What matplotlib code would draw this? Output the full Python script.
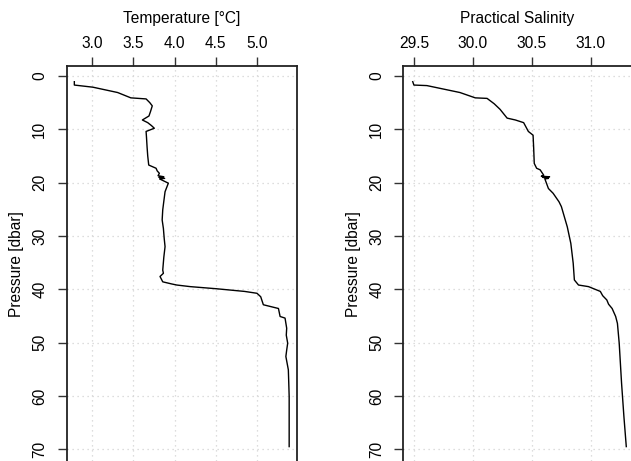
import numpy as np
import matplotlib
matplotlib.use("Agg")
import matplotlib.pyplot as plt

plt.rcParams['font.family'] = ['Liberation Sans', 'DejaVu Sans']

# temperature profile, [degC] vs pressure [dbar]
temp_p = [1.07, 1.7, 2.1, 3.1, 4.1, 4.3, 5.0, 5.6, 6.6, 7.5, 8.25, 8.75, 9.3, 9.8, 10.4,
          11.5, 13.3, 15.0, 16.7, 17.3, 17.8, 18.25, 18.7, 18.9, 19.0, 19.2, 19.3, 19.5,
          20.1, 21.7, 23.5, 25.1, 27.0, 28.6, 30.5, 32.0, 34.0, 36.4, 37.0, 37.6, 38.6,
          39.0, 39.2, 39.5, 39.9, 40.4, 40.75, 41.4, 42.9, 43.6, 45.1, 45.4, 47.3, 48.6,
          50.1, 51.4, 52.6, 55.1, 57.5, 60.1, 63.0, 66.0, 69.5]
temp = [2.785, 2.785, 3.01, 3.31, 3.47, 3.655, 3.70, 3.73, 3.71, 3.69, 3.61, 3.675, 3.72,
        3.755, 3.655, 3.66, 3.667, 3.675, 3.687, 3.776, 3.79, 3.816, 3.80, 3.87, 3.81,
        3.88, 3.82, 3.845, 3.925, 3.885, 3.87, 3.857, 3.85, 3.865, 3.875, 3.885, 3.87,
        3.857, 3.865, 3.824, 3.857, 3.966, 4.027, 4.19, 4.51, 4.85, 5.0, 5.045, 5.077,
        5.26, 5.28, 5.34, 5.36, 5.355, 5.372, 5.36, 5.35, 5.38, 5.385, 5.39, 5.39, 5.39,
        5.39]

# salinity profile vs pressure [dbar]
sal_p = [1.07, 1.7, 1.8, 3.1, 4.1, 4.2, 5.2, 6.25, 7.9, 8.25, 8.75, 10.4, 11.1, 13.5,
         16.4, 17.3, 17.6, 18.6, 18.8, 18.9, 19.0, 19.2, 19.3, 21.1, 22.0, 23.6, 24.5,
         28.3, 31.4, 35.1, 38.25, 39.2, 39.5, 40.4, 41.2, 42.0, 42.8, 43.6, 45.1, 46.4,
         50.1, 57.6, 63.9, 69.5]
sal = [29.49, 29.50, 29.61, 29.89, 30.02, 30.12, 30.18, 30.23, 30.29, 30.36, 30.43, 30.47,
       30.51, 30.515, 30.52, 30.54, 30.57, 30.60, 30.58, 30.65, 30.59, 30.64, 30.61,
       30.64, 30.68, 30.73, 30.75, 30.80, 30.83, 30.85, 30.86, 30.895, 30.98, 31.08,
       31.10, 31.135, 31.15, 31.18, 31.21, 31.225, 31.24, 31.26, 31.28, 31.30]

temp_ticks = [3.0, 3.5, 4.0, 4.5, 5.0]
sal_ticks = [29.5, 30.0, 30.5, 31.0]
p_ticks = [0, 10, 20, 30, 40, 50, 60, 70]

W, H = 631, 461
fig = plt.figure(figsize=(W / 100, H / 100), dpi=100)

ax1 = fig.add_axes([66.5 / W, 0, (297 - 66.5) / W, 1 - 66.5 / H])
ax2 = fig.add_axes([403.3 / W, 0, 1 - 403.3 / W, 1 - 66.5 / H])


def style_panel(ax, ticks, xlim, label, hide_right=False):
    ax.set_xlim(*xlim)
    ax.set_ylim(72.2, -1.78)
    ax.xaxis.tick_top()
    ax.xaxis.set_label_position('top')
    ax.set_xticks(ticks)
    ax.set_xticklabels(['%.1f' % t for t in ticks])
    ax.set_yticks(p_ticks)
    ax.set_yticklabels([str(t) for t in p_ticks], rotation=90, va='center')
    ax.tick_params(axis='both', length=6.8, width=1.0, labelsize=11.2,
                   color='#333333')
    ax.tick_params(axis='x', pad=4)
    ax.tick_params(axis='y', pad=7)
    ax.set_xlabel(label, fontsize=11.2, labelpad=10)
    ax.set_ylabel('Pressure [dbar]', fontsize=11.2, labelpad=6)
    ax.grid(True, color='#d3d3d3', linestyle=(0, (1, 3)), linewidth=0.9)
    ax.spines['bottom'].set_visible(False)
    if hide_right:
        ax.spines['right'].set_visible(False)
    for s in ax.spines.values():
        s.set_linewidth(1.3)
        s.set_color('#222222')


ax1.plot(temp, temp_p, color='black', linewidth=1.0)
style_panel(ax1, temp_ticks, (2.69, 5.485), 'Temperature [°C]')

ax2.plot(sal, sal_p, color='black', linewidth=1.0)
style_panel(ax2, sal_ticks, (29.41, 31.34), 'Practical Salinity', hide_right=True)

fig.savefig('out.png', dpi=100)
